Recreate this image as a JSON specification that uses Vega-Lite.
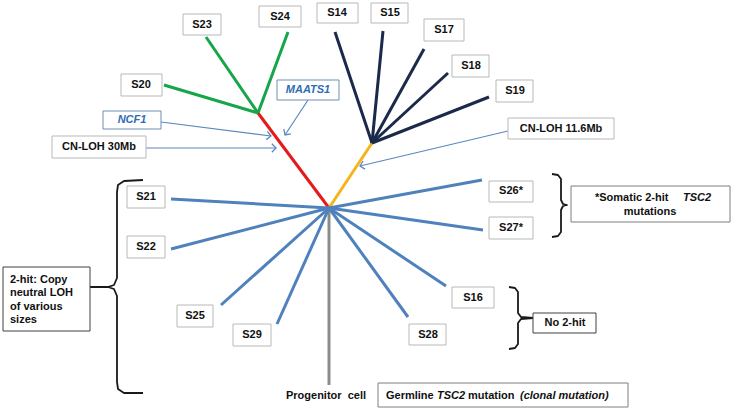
{
  "$schema": "https://vega.github.io/schema/vega-lite/v6.json",
  "width": 733,
  "height": 408,
  "padding": 0,
  "autosize": {"type": "fit", "contains": "padding"},
  "background": "white",
  "config": {"view": {"stroke": null}},
  "datasets": {
    "edges": [
      {"g": "red", "x": 329, "y": 208, "x2": 258, "y2": 113},
      {"g": "gold", "x": 329, "y": 208, "x2": 372, "y2": 143},
      {"g": "gray", "x": 329, "y": 208, "x2": 329, "y2": 385},
      {"g": "green", "x": 258, "y": 113, "x2": 206, "y2": 37},
      {"g": "green", "x": 258, "y": 113, "x2": 288, "y2": 32},
      {"g": "green", "x": 258, "y": 113, "x2": 164, "y2": 85},
      {"g": "navy", "x": 372, "y": 143, "x2": 335, "y2": 32},
      {"g": "navy", "x": 372, "y": 143, "x2": 383, "y2": 31},
      {"g": "navy", "x": 372, "y": 143, "x2": 424, "y2": 49},
      {"g": "navy", "x": 372, "y": 143, "x2": 448, "y2": 73},
      {"g": "navy", "x": 372, "y": 143, "x2": 489, "y2": 97},
      {"g": "blue", "x": 329, "y": 208, "x2": 171, "y2": 199},
      {"g": "blue", "x": 329, "y": 208, "x2": 171, "y2": 249},
      {"g": "blue", "x": 329, "y": 208, "x2": 221, "y2": 305},
      {"g": "blue", "x": 329, "y": 208, "x2": 277, "y2": 324},
      {"g": "blue", "x": 329, "y": 208, "x2": 482, "y2": 180},
      {"g": "blue", "x": 329, "y": 208, "x2": 483, "y2": 230},
      {"g": "blue", "x": 329, "y": 208, "x2": 446, "y2": 286},
      {"g": "blue", "x": 329, "y": 208, "x2": 408, "y2": 317}
    ],
    "arrows": [
      {"a": "NCF1", "x": 161, "y": 122, "x2": 271, "y2": 136},
      {"a": "CN30", "x": 146, "y": 148, "x2": 276, "y2": 148},
      {"a": "MAATS1", "x": 308, "y": 100, "x2": 285, "y2": 135},
      {"a": "CN11", "x": 508, "y": 131, "x2": 360, "y2": 166}
    ],
    "braces": [
      {"b": "L", "i": 1, "x": 143, "y": 180}, {"b": "L", "i": 2, "x": 124, "y": 181}, {"b": "L", "i": 3, "x": 118, "y": 185}, {"b": "L", "i": 4, "x": 117, "y": 192},
      {"b": "L", "i": 5, "x": 117, "y": 278}, {"b": "L", "i": 6, "x": 114, "y": 285}, {"b": "L", "i": 7, "x": 108, "y": 287}, {"b": "L", "i": 8, "x": 90, "y": 287},
      {"b": "L", "i": 9, "x": 108, "y": 287}, {"b": "L", "i": 10, "x": 114, "y": 289}, {"b": "L", "i": 11, "x": 117, "y": 296}, {"b": "L", "i": 12, "x": 117, "y": 382},
      {"b": "L", "i": 13, "x": 118, "y": 389}, {"b": "L", "i": 14, "x": 124, "y": 393}, {"b": "L", "i": 15, "x": 143, "y": 393},
      {"b": "S", "i": 1, "x": 552, "y": 174}, {"b": "S", "i": 2, "x": 558, "y": 175}, {"b": "S", "i": 3, "x": 561, "y": 179}, {"b": "S", "i": 4, "x": 561, "y": 200},
      {"b": "S", "i": 5, "x": 563, "y": 204}, {"b": "S", "i": 6, "x": 567, "y": 205}, {"b": "S", "i": 7, "x": 563, "y": 206}, {"b": "S", "i": 8, "x": 561, "y": 210},
      {"b": "S", "i": 9, "x": 561, "y": 232}, {"b": "S", "i": 10, "x": 558, "y": 236}, {"b": "S", "i": 11, "x": 552, "y": 237},
      {"b": "N", "i": 1, "x": 509, "y": 287}, {"b": "N", "i": 2, "x": 515, "y": 288}, {"b": "N", "i": 3, "x": 518, "y": 292}, {"b": "N", "i": 4, "x": 518, "y": 313},
      {"b": "N", "i": 5, "x": 521, "y": 317}, {"b": "N", "i": 6, "x": 533, "y": 318}, {"b": "N", "i": 7, "x": 521, "y": 319}, {"b": "N", "i": 8, "x": 518, "y": 323},
      {"b": "N", "i": 9, "x": 518, "y": 344}, {"b": "N", "i": 10, "x": 515, "y": 348}, {"b": "N", "i": 11, "x": 509, "y": 349}
    ],
    "boxes": [
      {"k": "s", "x": 183, "y": 14, "x2": 221, "y2": 35},
      {"k": "s", "x": 259, "y": 6, "x2": 301, "y2": 27},
      {"k": "s", "x": 317, "y": 3, "x2": 358, "y2": 23},
      {"k": "s", "x": 371, "y": 3, "x2": 408, "y2": 23},
      {"k": "s", "x": 121, "y": 74, "x2": 162, "y2": 96},
      {"k": "b", "x": 277, "y": 80, "x2": 339, "y2": 100},
      {"k": "b", "x": 103, "y": 111, "x2": 161, "y2": 129},
      {"k": "s", "x": 52, "y": 136, "x2": 146, "y2": 158},
      {"k": "s", "x": 424, "y": 19, "x2": 464, "y2": 41},
      {"k": "s", "x": 452, "y": 55, "x2": 489, "y2": 77},
      {"k": "s", "x": 496, "y": 80, "x2": 533, "y2": 102},
      {"k": "s", "x": 508, "y": 118, "x2": 614, "y2": 139},
      {"k": "s", "x": 489, "y": 181, "x2": 533, "y2": 202},
      {"k": "s", "x": 489, "y": 217, "x2": 533, "y2": 239},
      {"k": "d", "x": 571, "y": 186, "x2": 730, "y2": 222},
      {"k": "s", "x": 452, "y": 287, "x2": 494, "y2": 308},
      {"k": "s", "x": 409, "y": 324, "x2": 446, "y2": 345},
      {"k": "k", "x": 533, "y": 313, "x2": 596, "y2": 333},
      {"k": "d", "x": 378, "y": 383, "x2": 628, "y2": 407},
      {"k": "s", "x": 127, "y": 186, "x2": 165, "y2": 208},
      {"k": "s", "x": 127, "y": 236, "x2": 165, "y2": 258},
      {"k": "s", "x": 177, "y": 305, "x2": 213, "y2": 327},
      {"k": "s", "x": 233, "y": 324, "x2": 271, "y2": 346},
      {"k": "k", "x": 3, "y": 267, "x2": 90, "y2": 331}
    ],
    "labels": [
      {"s": "c", "t": "S23", "x": 202, "y": 25},
      {"s": "c", "t": "S24", "x": 280, "y": 17},
      {"s": "c", "t": "S14", "x": 337, "y": 13},
      {"s": "c", "t": "S15", "x": 390, "y": 13},
      {"s": "c", "t": "S20", "x": 141, "y": 85},
      {"s": "c", "t": "CN-LOH 30Mb", "x": 99, "y": 147},
      {"s": "c", "t": "S17", "x": 444, "y": 30},
      {"s": "c", "t": "S18", "x": 471, "y": 66},
      {"s": "c", "t": "S19", "x": 515, "y": 91},
      {"s": "c", "t": "CN-LOH 11.6Mb", "x": 561, "y": 129},
      {"s": "c", "t": "S26*", "x": 511, "y": 191},
      {"s": "c", "t": "S27*", "x": 511, "y": 228},
      {"s": "c", "t": "S16", "x": 473, "y": 298},
      {"s": "c", "t": "S28", "x": 428, "y": 335},
      {"s": "c", "t": "No 2-hit", "x": 565, "y": 323},
      {"s": "c", "t": "S21", "x": 146, "y": 197},
      {"s": "c", "t": "S22", "x": 146, "y": 247},
      {"s": "c", "t": "S25", "x": 195, "y": 316},
      {"s": "c", "t": "S29", "x": 252, "y": 335},
      {"s": "c", "t": "Progenitor\u00a0\u00a0cell", "x": 326, "y": 396},
      {"s": "c", "t": "mutations", "x": 650, "y": 212},
      {"s": "bi", "t": "MAATS1", "x": 308, "y": 90},
      {"s": "bi", "t": "NCF1", "x": 132, "y": 120},
      {"s": "l", "t": "2-hit: Copy", "x": 10, "y": 280},
      {"s": "l", "t": "neutral LOH", "x": 10, "y": 293},
      {"s": "l", "t": "of various", "x": 10, "y": 307},
      {"s": "l", "t": "sizes", "x": 10, "y": 320},
      {"s": "l", "t": "*Somatic 2-hit", "x": 595, "y": 198},
      {"s": "l", "t": "Germline", "x": 386, "y": 396},
      {"s": "l", "t": "mutation", "x": 468, "y": 396},
      {"s": "li", "t": "TSC2", "x": 683, "y": 198},
      {"s": "li", "t": "TSC2", "x": 437, "y": 396},
      {"s": "li", "t": "(clonal mutation)", "x": 520, "y": 396}
    ]
  },
  "layer": [
    {
      "data": {"name": "edges"},
      "mark": {"type": "rule", "strokeWidth": 3},
      "encoding": {
        "x": {"field": "x", "type": "quantitative", "scale": {"domain": [0, 733], "nice": false, "zero": false}, "axis": null},
        "y": {"field": "y", "type": "quantitative", "scale": {"domain": [0, 408], "nice": false, "zero": false, "reverse": true}, "axis": null},
        "x2": {"field": "x2"},
        "y2": {"field": "y2"},
        "color": {"field": "g", "type": "nominal", "legend": null,
          "scale": {"domain": ["green", "red", "gold", "navy", "blue", "gray"], "range": ["#17a54a", "#e31b1b", "#f6b41b", "#1b2a4a", "#4f81bd", "#8c8c8c"]}}
      }
    },
    {
      "data": {"name": "arrows"},
      "mark": {"type": "rule", "strokeWidth": 1.2, "color": "#5b88c0"},
      "encoding": {
        "x": {"field": "x", "type": "quantitative", "axis": null},
        "y": {"field": "y", "type": "quantitative", "axis": null},
        "x2": {"field": "x2"},
        "y2": {"field": "y2"}
      }
    },
    {
      "data": {"name": "arrows"},
      "transform": [{"calculate": "atan2(datum.y2 - datum.y, datum.x2 - datum.x) * 180 / PI", "as": "ang"}],
      "mark": {"type": "point", "shape": "M-1,-1L0,0L-1,1", "filled": false, "strokeWidth": 1.3, "color": "#5b88c0", "size": 70, "opacity": 1},
      "encoding": {
        "x": {"field": "x2", "type": "quantitative", "axis": null},
        "y": {"field": "y2", "type": "quantitative", "axis": null},
        "angle": {"field": "ang", "type": "quantitative", "scale": null}
      }
    },
    {
      "data": {"name": "braces"},
      "mark": {"type": "line", "strokeWidth": 1.8, "color": "#1a1a1a", "strokeJoin": "round"},
      "encoding": {
        "x": {"field": "x", "type": "quantitative", "axis": null},
        "y": {"field": "y", "type": "quantitative", "axis": null},
        "detail": {"field": "b"},
        "order": {"field": "i", "type": "quantitative"}
      }
    },
    {
      "data": {"name": "boxes"},
      "mark": {"type": "rect", "fill": "white", "strokeWidth": 1},
      "encoding": {
        "x": {"field": "x", "type": "quantitative", "axis": null},
        "y": {"field": "y", "type": "quantitative", "axis": null},
        "x2": {"field": "x2"},
        "y2": {"field": "y2"},
        "stroke": {"field": "k", "type": "nominal", "legend": null,
          "scale": {"domain": ["s", "b", "d", "k"], "range": ["#b8b8b8", "#6f8fb5", "#7f7f7f", "#404040"]}},
        "strokeDash": {"field": "k", "type": "nominal", "legend": null,
          "scale": {"domain": ["s", "b", "d", "k"], "range": [[1, 0], [1, 0], [1.5, 1.5], [1, 0]]}}
      }
    },
    {
      "data": {"name": "labels"},
      "transform": [{"filter": "datum.s == 'c'"}],
      "mark": {"type": "text", "font": "Liberation Sans", "fontSize": 11, "fontWeight": "bold", "align": "center", "baseline": "middle", "color": "#111111"},
      "encoding": {
        "x": {"field": "x", "type": "quantitative", "axis": null},
        "y": {"field": "y", "type": "quantitative", "axis": null},
        "text": {"field": "t"}
      }
    },
    {
      "data": {"name": "labels"},
      "transform": [{"filter": "datum.s == 'bi'"}],
      "mark": {"type": "text", "font": "Liberation Sans", "fontSize": 11, "fontWeight": "bold", "fontStyle": "italic", "align": "center", "baseline": "middle", "color": "#2e6db4"},
      "encoding": {
        "x": {"field": "x", "type": "quantitative", "axis": null},
        "y": {"field": "y", "type": "quantitative", "axis": null},
        "text": {"field": "t"}
      }
    },
    {
      "data": {"name": "labels"},
      "transform": [{"filter": "datum.s == 'l'"}],
      "mark": {"type": "text", "font": "Liberation Sans", "fontSize": 11, "fontWeight": "bold", "align": "left", "baseline": "middle", "color": "#111111"},
      "encoding": {
        "x": {"field": "x", "type": "quantitative", "axis": null},
        "y": {"field": "y", "type": "quantitative", "axis": null},
        "text": {"field": "t"}
      }
    },
    {
      "data": {"name": "labels"},
      "transform": [{"filter": "datum.s == 'li'"}],
      "mark": {"type": "text", "font": "Liberation Sans", "fontSize": 11, "fontWeight": "bold", "fontStyle": "italic", "align": "left", "baseline": "middle", "color": "#111111"},
      "encoding": {
        "x": {"field": "x", "type": "quantitative", "axis": null},
        "y": {"field": "y", "type": "quantitative", "axis": null},
        "text": {"field": "t"}
      }
    }
  ]
}
